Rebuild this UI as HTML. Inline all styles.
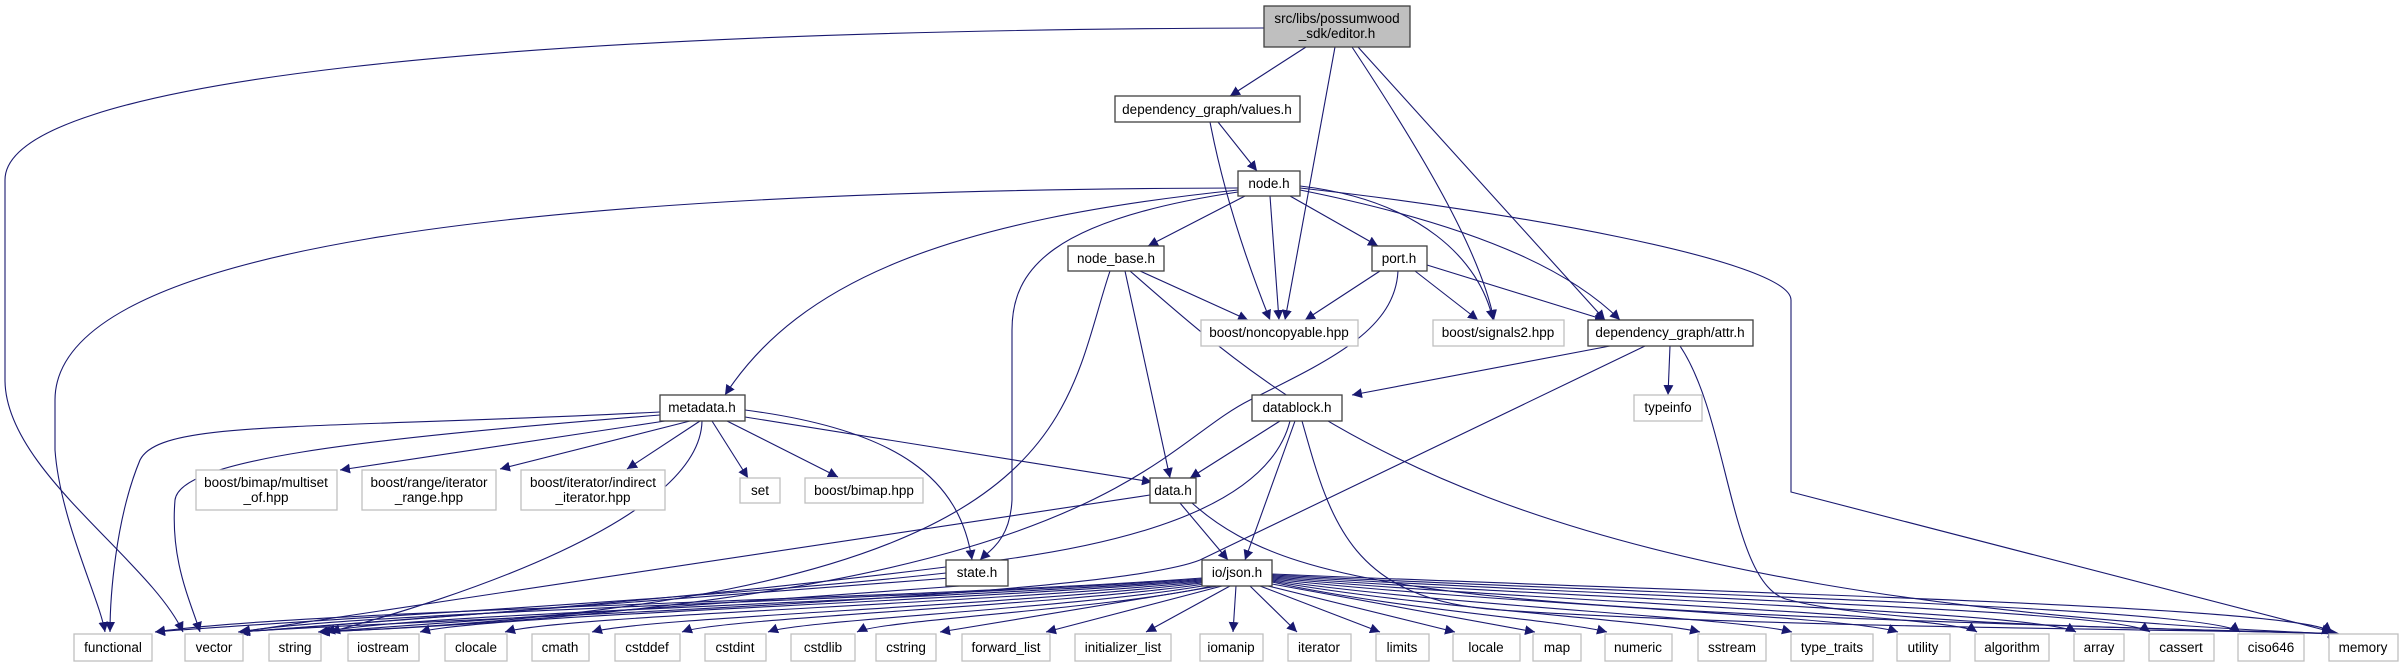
<!DOCTYPE html>
<html><head><meta charset="utf-8"><style>
html,body{margin:0;padding:0;background:#fff;}
svg{display:block;}
text{font-family:"Liberation Sans",sans-serif;font-size:13.5px;fill:#000;text-anchor:middle;}
.n{fill:#fff;stroke:#404040;stroke-width:1.3;}
.g{fill:#fff;stroke:#bfbfbf;stroke-width:1.3;}
.e{fill:none;stroke:#191970;stroke-width:1.1;marker-end:url(#a);}
</style></head><body>
<svg width="2404" height="667" viewBox="0 0 2404 667" xmlns="http://www.w3.org/2000/svg">
<defs><marker id="a" markerUnits="userSpaceOnUse" markerWidth="12" markerHeight="10" refX="10" refY="5" orient="auto"><path d="M0,0 L10,5 L0,10 z" fill="#191970"/></marker></defs>
<g>
<path class="e" d="M1306,47 L1230,96"/>
<path class="e" d="M1335,47 L1285,320"/>
<path class="e" d="M1352,47 C1420,150 1480,250 1494,320"/>
<path class="e" d="M1358,47 L1605,320"/>
<path class="e" d="M1264,28 C500,30 5,80 5,180 L5,380 C5,470 150,560 183,632"/>
<path class="e" d="M1218,122 L1257,171"/>
<path class="e" d="M1210,122 C1225,200 1250,270 1270,320"/>
<path class="e" d="M1245,196 L1148,246"/>
<path class="e" d="M1270,196 L1279,320"/>
<path class="e" d="M1290,196 L1378,246"/>
<path class="e" d="M1300,186 C1420,200 1480,260 1493,320"/>
<path class="e" d="M1300,190 C1500,230 1580,280 1620,320"/>
<path class="e" d="M1300,188 C1500,210 1791,260 1791,300 L1791,492 L2332,632"/>
<path class="e" d="M1238,188 C500,190 55,250 55,400 L55,450 C60,520 100,600 105,632"/>
<path class="e" d="M1238,190 C950,220 800,280 725,395"/>
<path class="e" d="M1238,192 C1050,220 1012,270 1012,330 L1012,500 C1010,540 990,550 980,560"/>
<path class="e" d="M1140,271 L1248,320"/>
<path class="e" d="M1125,271 L1170,478"/>
<path class="e" d="M1130,271 C1300,420 1500,600 2338,634"/>
<path class="e" d="M1110,271 C1060,420 1080,600 320,632"/>
<path class="e" d="M1380,271 L1305,320"/>
<path class="e" d="M1415,271 L1478,320"/>
<path class="e" d="M1427,265 L1605,320"/>
<path class="e" d="M1398,271 C1395,330 1330,360 1250,400 C1150,450 1100,600 320,632"/>
<path class="e" d="M1610,346 L1352,395"/>
<path class="e" d="M1670,346 L1668,395"/>
<path class="e" d="M1680,346 C1730,420 1730,590 1790,600 C1900,630 2300,630 2338,634"/>
<path class="e" d="M1645,346 L1200,560 C1100,600 400,620 238,632"/>
<path class="e" d="M1280,421 L1190,478"/>
<path class="e" d="M1295,421 L1245,560"/>
<path class="e" d="M1302,421 C1330,520 1350,600 1500,610 C1800,630 2300,630 2338,634"/>
<path class="e" d="M1290,421 C1270,500 1150,540 1000,560 C700,600 400,620 240,632"/>
<path class="e" d="M660,412 C300,430 160,420 140,460 C115,520 110,600 110,632"/>
<path class="e" d="M660,415 C350,440 180,460 175,500 C170,560 190,600 200,632"/>
<path class="e" d="M702,421 C700,520 450,600 330,632"/>
<path class="e" d="M665,421 L340,470"/>
<path class="e" d="M690,421 L500,469"/>
<path class="e" d="M700,421 L627,469"/>
<path class="e" d="M712,421 L748,478"/>
<path class="e" d="M727,421 L838,477"/>
<path class="e" d="M745,417 L1152,482"/>
<path class="e" d="M745,410 C900,430 960,480 972,560"/>
<path class="e" d="M1180,503 L1228,560"/>
<path class="e" d="M1150,495 L240,632"/>
<path class="e" d="M1192,503 C1300,600 1500,610 2340,634"/>
<path class="e" d="M946,573 C700,600 300,620 155,632"/>
<path class="e" d="M950,578 L240,632"/>
<path class="e" d="M960,586 L318,632"/>
<!-- json.h -->
<path class="e" d="M1202,578 C900,600 300,610 155,632"/>
<path class="e" d="M1202,579 C900,600 350,612 240,632"/>
<path class="e" d="M1202,580 C900,602 400,614 325,632"/>
<path class="e" d="M1202,581 C900,604 480,616 420,632"/>
<path class="e" d="M1202,582 C950,605 560,616 505,632"/>
<path class="e" d="M1202,583 C1000,606 640,618 592,632"/>
<path class="e" d="M1205,584 C1050,606 720,618 682,632"/>
<path class="e" d="M1208,585 C1080,608 800,620 768,632"/>
<path class="e" d="M1212,586 C1120,608 880,620 857,632"/>
<path class="e" d="M1218,586 L940,632"/>
<path class="e" d="M1222,586 L1046,632"/>
<path class="e" d="M1230,586 L1146,632"/>
<path class="e" d="M1236,586 L1233,632"/>
<path class="e" d="M1250,586 L1297,632"/>
<path class="e" d="M1260,586 L1380,632"/>
<path class="e" d="M1268,586 L1455,632"/>
<path class="e" d="M1272,584 L1535,632"/>
<path class="e" d="M1272,582 C1400,610 1560,620 1607,632"/>
<path class="e" d="M1272,581 C1420,608 1650,620 1700,632"/>
<path class="e" d="M1272,580 C1450,606 1740,618 1792,632"/>
<path class="e" d="M1272,579 C1500,604 1850,616 1898,632"/>
<path class="e" d="M1272,578 C1550,602 1950,614 1977,632"/>
<path class="e" d="M1272,577 C1600,600 2040,612 2076,632"/>
<path class="e" d="M1272,576 C1650,598 2120,610 2150,632"/>
<path class="e" d="M1272,575 C1700,596 2210,608 2240,632"/>
<path class="e" d="M1272,574 C1750,594 2300,606 2332,632"/>
</g>
<g>
<rect x="1264" y="6" width="146" height="41" fill="#bfbfbf" stroke="#404040" stroke-width="1.3"/>
<text x="1337" y="23">src/libs/possumwood</text><text x="1337" y="38">_sdk/editor.h</text>
<rect class="n" x="1115" y="96" width="185" height="26"/><text x="1207" y="114">dependency_graph/values.h</text>
<rect class="n" x="1238" y="171" width="62" height="25"/><text x="1269" y="188">node.h</text>
<rect class="n" x="1068" y="246" width="96" height="25"/><text x="1116" y="263">node_base.h</text>
<rect class="n" x="1372" y="246" width="55" height="25"/><text x="1399" y="263">port.h</text>
<rect class="g" x="1201" y="320" width="157" height="26"/><text x="1279" y="337">boost/noncopyable.hpp</text>
<rect class="g" x="1433" y="320" width="131" height="26"/><text x="1498" y="337">boost/signals2.hpp</text>
<rect class="n" x="1588" y="320" width="165" height="26"/><text x="1670" y="337">dependency_graph/attr.h</text>
<rect class="n" x="660" y="395" width="85" height="26"/><text x="702" y="412">metadata.h</text>
<rect class="n" x="1252" y="395" width="90" height="26"/><text x="1297" y="412">datablock.h</text>
<rect class="g" x="1634" y="395" width="68" height="26"/><text x="1668" y="412">typeinfo</text>
<rect class="g" x="196" y="470" width="141" height="40"/><text x="266" y="487">boost/bimap/multiset</text><text x="266" y="502">_of.hpp</text>
<rect class="g" x="362" y="470" width="134" height="40"/><text x="429" y="487">boost/range/iterator</text><text x="429" y="502">_range.hpp</text>
<rect class="g" x="521" y="470" width="144" height="40"/><text x="593" y="487">boost/iterator/indirect</text><text x="593" y="502">_iterator.hpp</text>
<rect class="g" x="740" y="478" width="40" height="25"/><text x="760" y="495">set</text>
<rect class="g" x="805" y="478" width="118" height="25"/><text x="864" y="495">boost/bimap.hpp</text>
<rect class="n" x="1150" y="478" width="46" height="25"/><text x="1173" y="495">data.h</text>
<rect class="n" x="946" y="560" width="62" height="26"/><text x="977" y="577">state.h</text>
<rect class="n" x="1202" y="560" width="70" height="26"/><text x="1237" y="577">io/json.h</text>
<g>
<rect class="g" x="74" y="634" width="78" height="27"/><text x="113" y="652">functional</text>
<rect class="g" x="185" y="634" width="58" height="27"/><text x="214" y="652">vector</text>
<rect class="g" x="269" y="634" width="52" height="27"/><text x="295" y="652">string</text>
<rect class="g" x="348" y="634" width="71" height="27"/><text x="383" y="652">iostream</text>
<rect class="g" x="445" y="634" width="62" height="27"/><text x="476" y="652">clocale</text>
<rect class="g" x="532" y="634" width="57" height="27"/><text x="560" y="652">cmath</text>
<rect class="g" x="615" y="634" width="65" height="27"/><text x="647" y="652">cstddef</text>
<rect class="g" x="705" y="634" width="61" height="27"/><text x="735" y="652">cstdint</text>
<rect class="g" x="791" y="634" width="64" height="27"/><text x="823" y="652">cstdlib</text>
<rect class="g" x="876" y="634" width="60" height="27"/><text x="906" y="652">cstring</text>
<rect class="g" x="962" y="634" width="88" height="27"/><text x="1006" y="652">forward_list</text>
<rect class="g" x="1075" y="634" width="96" height="27"/><text x="1123" y="652">initializer_list</text>
<rect class="g" x="1200" y="634" width="63" height="27"/><text x="1231" y="652">iomanip</text>
<rect class="g" x="1288" y="634" width="63" height="27"/><text x="1319" y="652">iterator</text>
<rect class="g" x="1376" y="634" width="53" height="27"/><text x="1402" y="652">limits</text>
<rect class="g" x="1453" y="634" width="67" height="27"/><text x="1486" y="652">locale</text>
<rect class="g" x="1533" y="634" width="48" height="27"/><text x="1557" y="652">map</text>
<rect class="g" x="1605" y="634" width="67" height="27"/><text x="1638" y="652">numeric</text>
<rect class="g" x="1698" y="634" width="68" height="27"/><text x="1732" y="652">sstream</text>
<rect class="g" x="1791" y="634" width="82" height="27"/><text x="1832" y="652">type_traits</text>
<rect class="g" x="1897" y="634" width="53" height="27"/><text x="1923" y="652">utility</text>
<rect class="g" x="1975" y="634" width="74" height="27"/><text x="2012" y="652">algorithm</text>
<rect class="g" x="2074" y="634" width="50" height="27"/><text x="2099" y="652">array</text>
<rect class="g" x="2149" y="634" width="65" height="27"/><text x="2181" y="652">cassert</text>
<rect class="g" x="2238" y="634" width="66" height="27"/><text x="2271" y="652">ciso646</text>
<rect class="g" x="2329" y="634" width="69" height="27"/><text x="2363" y="652">memory</text>
</g>
</g>
</svg>
</body></html>
